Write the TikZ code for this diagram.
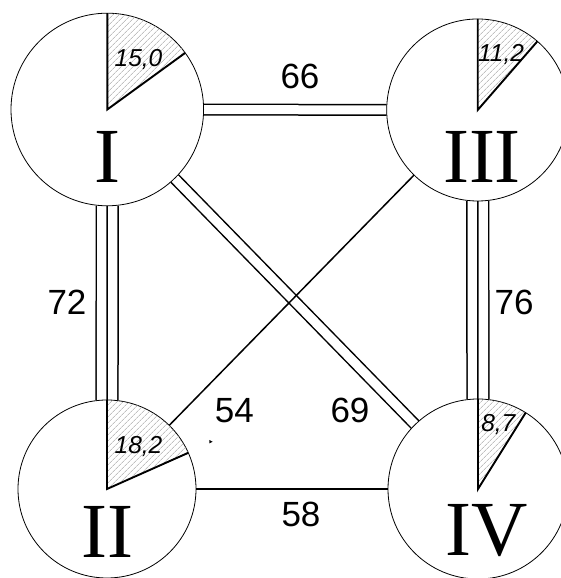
\documentclass[tikz,border=0pt]{standalone}
\usepackage{fontspec}
\setmainfont{Liberation Serif}
\newfontfamily\lsans{Liberation Sans}
\usetikzlibrary{patterns.meta,backgrounds}
\tikzset{
  station/.style={circle, draw, line width=0.8pt, fill=white, inner sep=0pt, outer sep=0pt, minimum size=#1},
  numeral/.style={font=\fontsize{78}{78}\selectfont, anchor=base, inner sep=0pt},
  share/.style={font=\lsans\itshape\fontsize{24.5}{24.5}\selectfont, anchor=base, inner sep=0pt},
  dist/.style={font=\lsans\fontsize{35}{35}\selectfont, anchor=base, inner sep=0pt},
  link/.style={line width=1.5pt},
  twin/.style={line width=1.5pt, double=white, double distance=9pt},
  triple/.style={line width=1.5pt, double=white, double distance=20.3pt},
  spoke/.style={line width=1.9pt},
  hatch/.style={pattern={Lines[angle=45, distance=4pt, line width=0.5pt]}, pattern color=gray!75},
}
\begin{document}
\begin{tikzpicture}[x=1pt, y=1pt]
  \useasboundingbox (0,0) rectangle (561,578);
  \clip (0,0) rectangle (561,578);

  % stations
  \node[station=192.6pt] (nI)   at (107.3,468.5) {};
  \node[station=182pt]   (nIII) at (477.7,468)   {};
  \node[station=178pt]   (nII)  at (107,89)      {};
  \node[station=180pt]   (nIV)  at (478,89)      {};

  % hatched shares
  \fill[hatch] (nI.center) -- (nI.north) arc[start angle=90, end angle=36, radius=96.3] -- cycle;
  \draw[spoke] (nI.north) -- (nI.center) -- (nI.36);
  \fill[hatch] (nIII.center) -- (nIII.north) arc[start angle=90, end angle=49.7, radius=91] -- cycle;
  \draw[spoke] (nIII.north) -- (nIII.center) -- (nIII.49.7);
  \fill[hatch] (nII.center) -- (nII.north) arc[start angle=90, end angle=24.5, radius=89] -- cycle;
  \draw[spoke] (nII.north) -- (nII.center) -- (nII.24.5);
  \fill[hatch] (nIV.center) -- (nIV.north) arc[start angle=90, end angle=58.7, radius=90] -- cycle;
  \draw[spoke] (nIV.north) -- (nIV.center) -- (nIV.58.7);

  \node[share] (sI)   at (138.5,511.3) {15,0};
  \node[share] (sIII) at (501,516)     {11,2};
  \node[share] (sII)  at (138.5,124.7) {18,2};
  \node[share] (sIV)  at (498.3,146.3) {8,7};

  % roman numerals
  \node[numeral] (rI)   at (107.3,395) {I};
  \node[numeral] (rIII) at (482,395)   {III};
  \node[numeral] (rII)  at (107.5,20)  {II};
  \node[numeral] (rIV)  at (486.7,23)  {IV};

  % connections
  \begin{scope}[on background layer]
    \draw[twin] (nI) -- (nIII);
    \draw[twin] (nI) -- (nIV);
    \draw[triple] (nI) -- (nII);
    \draw[link] (nI) -- (nII);
    \draw[triple] (nIII) -- (nIV);
    \draw[link] (nIII) -- (nIV);
    \draw[link] (nII) -- (nIV);
    \draw[link] (nIII) -- (nII);
  \end{scope}

  % distances
  \node[dist] (d66) at (300,489)     {66};
  \node[dist] (d58) at (301,51)      {58};
  \node[dist] (d72) at (67,263)      {72};
  \node[dist] (d76) at (514,263)     {76};
  \node[dist] (d54) at (234.4,155.3) {54};
  \node[dist] (d69) at (350,155.3)   {69};

  % small tick mark
  \fill (209.3,138) -- (212.6,136.3) -- (209.3,134.6) -- cycle;
\end{tikzpicture}
\end{document}
